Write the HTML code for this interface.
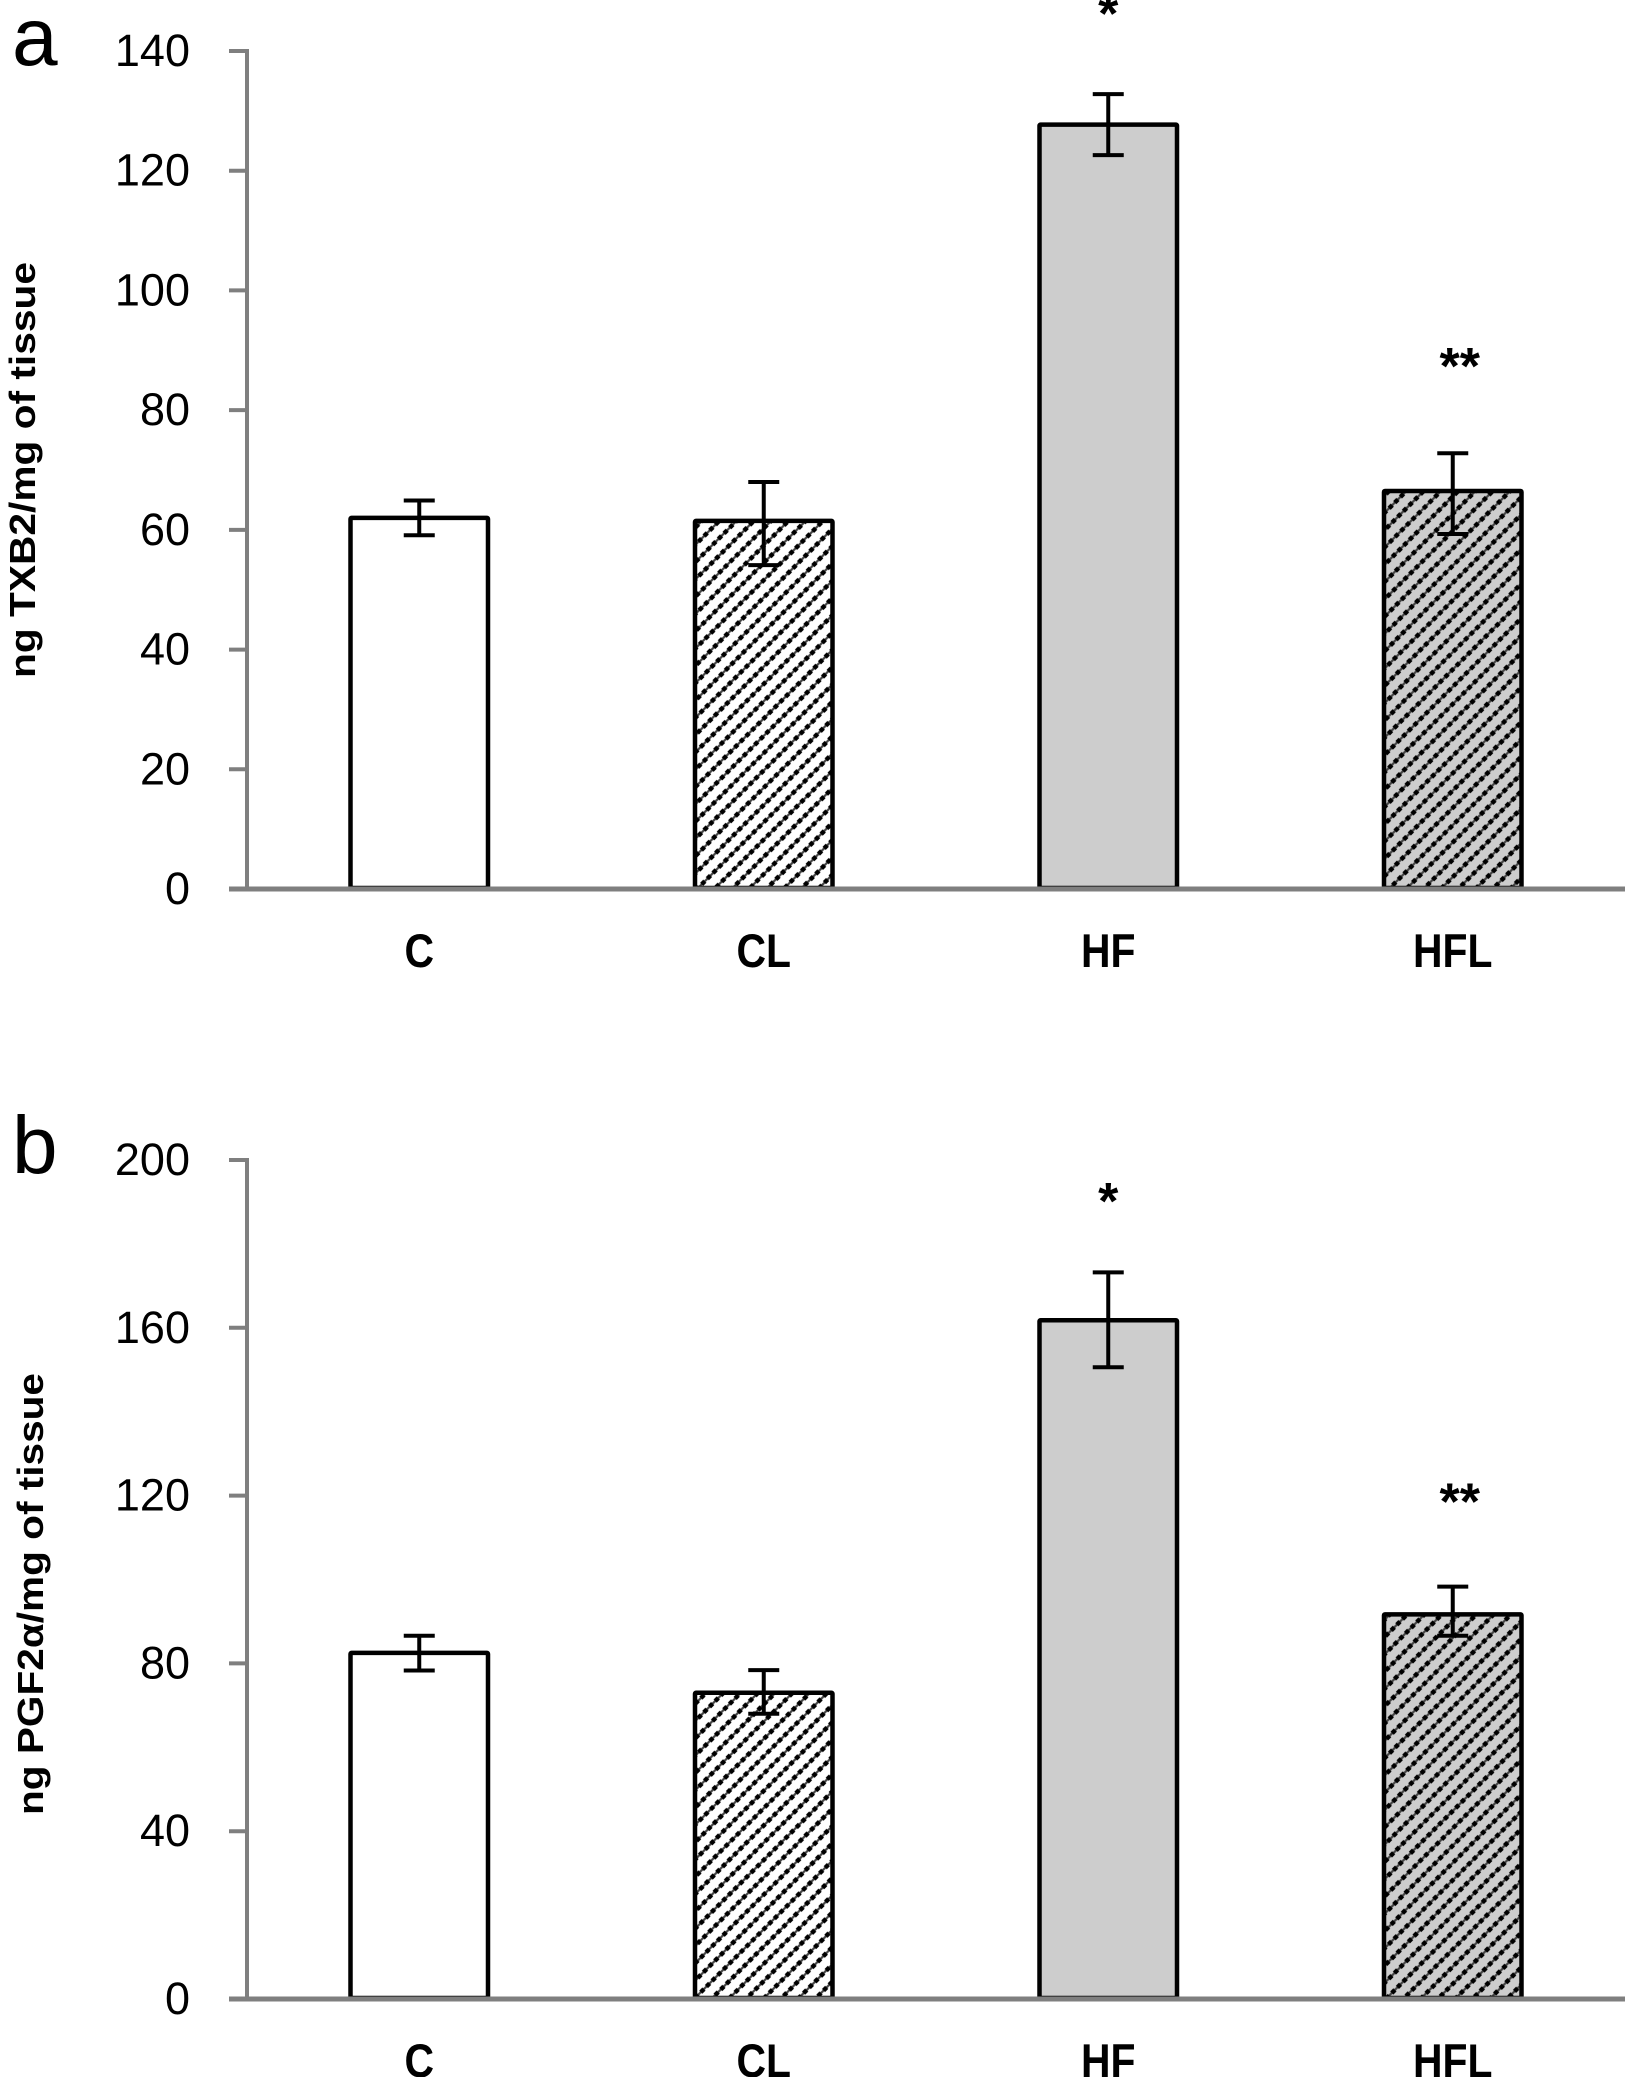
<!DOCTYPE html>
<html lang="en">
<head>
<meta charset="utf-8">
<title>TXB2 and PGF2α bar charts</title>
<style>
html,body{margin:0;padding:0;background:#fff;width:1625px;height:2077px;overflow:hidden}
svg{display:block}
text{font-family:"Liberation Sans",sans-serif;fill:#000}
.tick{font-size:45px;text-anchor:end}
.cat{font-size:47px;font-weight:bold;text-anchor:middle}
.ytitle{font-size:36px;font-weight:bold;text-anchor:middle}
.panel{font-size:82px}
</style>
</head>
<body>
<svg id="figure" xmlns="http://www.w3.org/2000/svg" width="1625" height="2077" viewBox="0 0 1625 2077">
  <defs>
    <pattern id="hatch-white" patternUnits="userSpaceOnUse" width="8" height="12.23" patternTransform="translate(-0.33,3.83) rotate(-45)">
      <rect width="8" height="12.23" fill="#fff"/>
      <path d="M0 6.1H8" stroke="#444" stroke-width="2.2"/>
      <rect x="1.75" y="3.85" width="4.5" height="4.5" fill="#000"/>
    </pattern>
    <pattern id="hatch-gray" patternUnits="userSpaceOnUse" width="8" height="12.23" patternTransform="translate(-0.33,3.83) rotate(-45)">
      <rect width="8" height="12.23" fill="#cdcdcd"/>
      <path d="M0 6.1H8" stroke="#444" stroke-width="2.2"/>
      <rect x="1.75" y="3.85" width="4.5" height="4.5" fill="#000"/>
    </pattern>
  </defs>
  <text class="panel" x="12" y="65">a</text>
  <text class="panel" x="12" y="1173">b</text>
  <text class="ytitle" transform="translate(35,470) rotate(-90)" textLength="416" lengthAdjust="spacingAndGlyphs">ng TXB2/mg of tissue</text>
  <text class="ytitle" transform="translate(43,1594) rotate(-90)" textLength="442" lengthAdjust="spacingAndGlyphs">ng PGF2α/mg of tissue</text>
</svg>
<script>
const categories = ['C', 'CL', 'HF', 'HFL'];
const categoryFills = ['#ffffff', 'url(#hatch-white)', '#cdcdcd', 'url(#hatch-gray)'];

const ticksA = [0, 20, 40, 60, 80, 100, 120, 140];
const valuesA = [62, 61.5, 127.7, 66.5];
const errorHighA = [64.9, 68, 132.8, 72.8];
const errorLowA = [59.1, 54.1, 122.6, 59.3];
const marksA = ['', '', '*', '**'];
const markLevelsA = [0, 0, 147.3, 88.4];

const ticksB = [0, 40, 80, 120, 160, 200];
const valuesB = [82.5, 73, 161.8, 91.7];
const errorHighB = [86.6, 78.4, 173.2, 98.3];
const errorLowB = [78.3, 68, 150.6, 86.6];
const marksB = ['', '', '*', '**'];
const markLevelsB = [0, 0, 191.7, 120];

const svg = document.getElementById('figure');
const NS = 'http://www.w3.org/2000/svg';
const AXIS_X = 247, BAND = 344.5, BAR_W = 137.5, CAP_HALF = 15.5;

function make(tag, attrs, parent, content) {
  const el = document.createElementNS(NS, tag);
  for (const k in attrs) el.setAttribute(k, attrs[k]);
  if (content !== undefined) el.textContent = content;
  parent.appendChild(el);
  return el;
}

function xCenter(i) { return AXIS_X + BAND * (i + 0.5); }

function drawPanel(cfg) {
  const maxTick = cfg.ticks[cfg.ticks.length - 1];
  const y = v => cfg.y0 - (v / maxTick) * (cfg.y0 - cfg.yTop);

  const group = make('g', {}, svg);
  
  

  categories.forEach((cat, i) => {
    const cx = xCenter(i);
    const bar = make('rect', {
      x: cx - BAR_W / 2, y: y(cfg.values[i]), width: BAR_W, height: cfg.y0 - y(cfg.values[i]) - 1,
      fill: categoryFills[i], stroke: '#000', 'stroke-width': 4.5, rx: 1
    }, group);
    
    

    const err = make('path', {
      d: 'M' + (cx - CAP_HALF) + ' ' + y(cfg.high[i]) + 'H' + (cx + CAP_HALF) +
         'M' + cx + ' ' + y(cfg.high[i]) + 'V' + y(cfg.low[i]) +
         'M' + (cx - CAP_HALF) + ' ' + y(cfg.low[i]) + 'H' + (cx + CAP_HALF),
      fill: 'none', stroke: '#000', 'stroke-width': 4
    }, group);
    
    

    const label = make('text', {
      class: 'cat',
      transform: 'translate(' + cx + ',' + (cfg.y0 + 78) + ') scale(0.87,1)'
    }, group, cat);
    
    

    if (cfg.marks[i]) {
      const isDouble = cfg.marks[i].length > 1;
      const mark = make('text', {
        x: cx + (isDouble ? 7 : 0),
        y: y(cfg.levels[i]) + 24,
        'text-anchor': 'middle',
        'font-size': 52,
        'font-weight': 'bold'
      }, group, cfg.marks[i]);
      
      
    }
  });

  const yAxis = make('line', {
    x1: AXIS_X, x2: AXIS_X, y1: cfg.yTop - 2, y2: cfg.y0, stroke: '#7f7f7f', 'stroke-width': 4
  }, group);
  
  

  const xAxis = make('line', {
    x1: 229, x2: 1625, y1: cfg.y0, y2: cfg.y0, stroke: '#7f7f7f', 'stroke-width': 5
  }, group);
  
  

  cfg.ticks.forEach(t => {
    const mark = make('line', {
      x1: 229, x2: AXIS_X, y1: y(t), y2: y(t), stroke: '#7f7f7f', 'stroke-width': 4
    }, group);
    
    

    const label = make('text', { class: 'tick', x: 190, y: y(t) + 15 }, group, String(t));
    
    
  });
}

drawPanel({ id: 'a', y0: 889, yTop: 51, ticks: ticksA, values: valuesA, high: errorHighA, low: errorLowA, marks: marksA, levels: markLevelsA });
drawPanel({ id: 'b', y0: 1999, yTop: 1160, ticks: ticksB, values: valuesB, high: errorHighB, low: errorLowB, marks: marksB, levels: markLevelsB });
</script>
</body>
</html>
